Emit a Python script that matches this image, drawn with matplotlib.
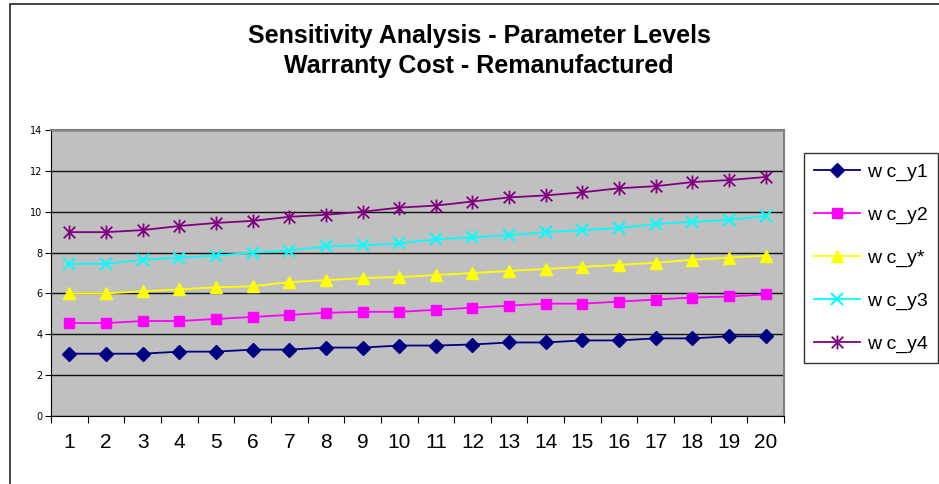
import matplotlib
matplotlib.use("Agg")
import matplotlib.pyplot as plt
from matplotlib.path import Path
from matplotlib.patches import Rectangle

periods = list(range(1, 21))
wc_y1 = [3.05, 3.05, 3.05, 3.15, 3.15, 3.25, 3.25, 3.35, 3.35, 3.45,
         3.45, 3.5, 3.6, 3.6, 3.7, 3.7, 3.8, 3.8, 3.9, 3.9]
wc_y2 = [4.55, 4.55, 4.65, 4.65, 4.75, 4.85, 4.95, 5.05, 5.1, 5.1,
         5.2, 5.3, 5.4, 5.5, 5.5, 5.6, 5.7, 5.8, 5.85, 5.95]
wc_ystar = [6.0, 6.0, 6.1, 6.2, 6.3, 6.35, 6.55, 6.65, 6.75, 6.8,
            6.9, 7.0, 7.1, 7.2, 7.3, 7.4, 7.5, 7.65, 7.75, 7.85]
wc_y3 = [7.45, 7.45, 7.65, 7.75, 7.85, 8.0, 8.1, 8.3, 8.35, 8.45,
         8.65, 8.75, 8.85, 9.0, 9.1, 9.2, 9.4, 9.5, 9.6, 9.8]
wc_y4 = [9.0, 9.0, 9.1, 9.3, 9.45, 9.55, 9.75, 9.85, 10.0, 10.2,
         10.3, 10.5, 10.7, 10.8, 10.95, 11.15, 11.25, 11.45, 11.55, 11.7]

# excel style star: x plus a vertical bar
star = Path([(-1, -1), (1, 1), (-1, 1), (1, -1), (0, -1.2), (0, 1.2)],
            [Path.MOVETO, Path.LINETO, Path.MOVETO, Path.LINETO, Path.MOVETO, Path.LINETO])

fig = plt.figure(figsize=(9.39, 4.84), dpi=100)
fig.patches.append(Rectangle((10 / 939, -0.1), 1.0, (480 / 484) + 0.1,
                             transform=fig.transFigure, fill=False,
                             edgecolor='#222222', linewidth=1.2))

ax = fig.add_axes([51 / 939, 68 / 484, 733 / 939, 286 / 484])
ax.set_facecolor('#C0C0C0')

xs = [p - 0.5 for p in periods]
ax.plot(xs, wc_y1, color='#000080', marker='D', markersize=7, lw=1.3, label='w c_y1')
ax.plot(xs, wc_y2, color='#FF00FF', marker='s', markersize=7.5, lw=1.3, label='w c_y2')
ax.plot(xs, wc_ystar, color='#FFFF00', marker='^', markersize=9, lw=1.3, label='w c_y*')
ax.plot(xs, wc_y3, color='#00FFFF', marker='x', markersize=9, mew=1.5, lw=1.3, label='w c_y3')
ax.plot(xs, wc_y4, color='#800080', marker=star, markersize=10, mew=1.3, lw=1.3, label='w c_y4')

ax.set_xlim(0, 20)
ax.set_ylim(0, 14)
ax.set_yticks(range(0, 15, 2))
ax.yaxis.grid(True, color='#111111', lw=1)
ax.set_axisbelow(True)
ax.tick_params(axis='y', labelsize=7, length=4, direction='out', pad=2)

ax.set_xticks(range(0, 21))
ax.set_xticklabels([])
ax.set_xticks(xs, minor=True)
ax.set_xticklabels([str(p) for p in periods], minor=True,
                   family='Liberation Sans', fontsize=15)
ax.tick_params(axis='x', which='major', length=5, direction='out')
ax.tick_params(axis='x', which='minor', length=0, pad=12)

for side in ['top', 'right']:
    ax.spines[side].set_color('#808080')
    ax.spines[side].set_linewidth(1.5)
ax.spines['left'].set_color('black')
ax.spines['bottom'].set_color('black')

fig.text(479 / 939, (484 - 51) / 484,
         'Sensitivity Analysis - Parameter Levels\nWarranty Cost - Remanufactured',
         ha='center', va='center', fontsize=18, fontweight='bold',
         family='Liberation Sans', linespacing=1.35)

leg = fig.legend(loc='upper left', bbox_to_anchor=(804 / 939, 331 / 484),
                 borderaxespad=0, fancybox=False, edgecolor='black',
                 prop={'family': 'Liberation Sans', 'size': 14},
                 handlelength=2.4, labelspacing=1.3, borderpad=0.5, handletextpad=0.35)
leg.get_frame().set_linewidth(1.0)

fig.savefig('out.png', dpi=100)
